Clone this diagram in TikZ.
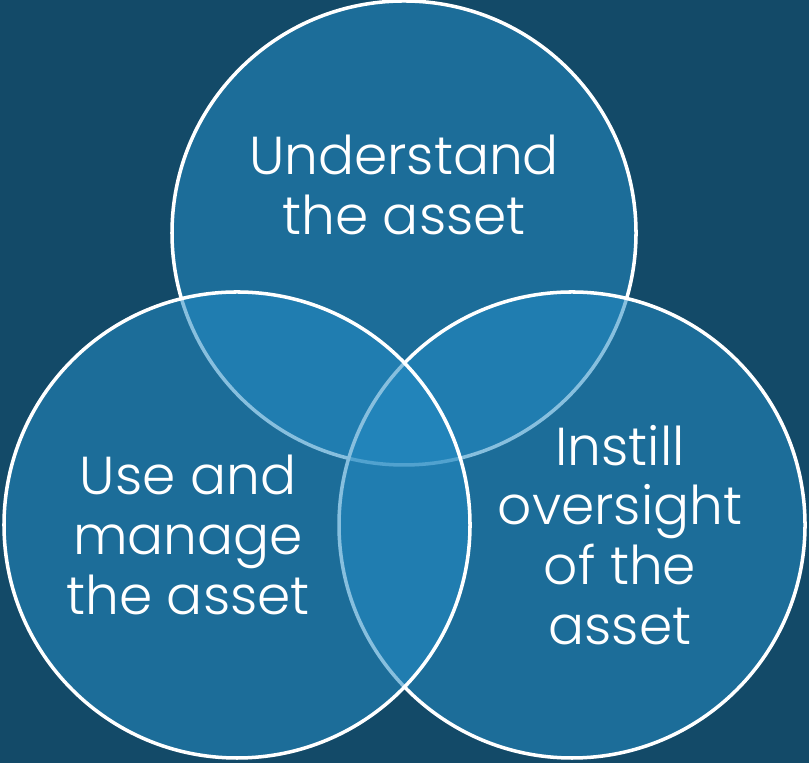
\documentclass[tikz,border=0pt]{standalone}
\usepackage{fontspec}
\setmainfont{Poppins Light}
\usepackage{tikz}
\usetikzlibrary{positioning}

\definecolor{slate}{RGB}{19,74,104}
\definecolor{bubble}{RGB}{37,139,195}

\begin{document}
\begin{tikzpicture}[x=1cm,y=1cm,
  ring/.style={draw=white,line width=1pt,fill=bubble,fill opacity=0.55,draw opacity=1},
  word/.style={text=white,align=center,font=\fontsize{15.2}{17}\selectfont}]
 \fill[slate](0,0) rectangle (8.09,7.63);
 \useasboundingbox (0,0) rectangle (8.09,7.63);
 % three circles, left one on top
 \draw[ring](4.04,5.30) circle (2.32);
 \draw[ring](5.72,2.38) circle (2.33);
 \draw[ring](2.37,2.38) circle (2.33);
 % labels
 \node[word] (understand) at (4.04,5.78) {Understand\\the asset};
 \node[word] (manage) at (1.88,2.28) {Use and\\manage\\the asset};
 \node[word] (oversight) at (6.20,2.28) {Instill\\oversight\\of the\\asset};
\end{tikzpicture}
\end{document}
